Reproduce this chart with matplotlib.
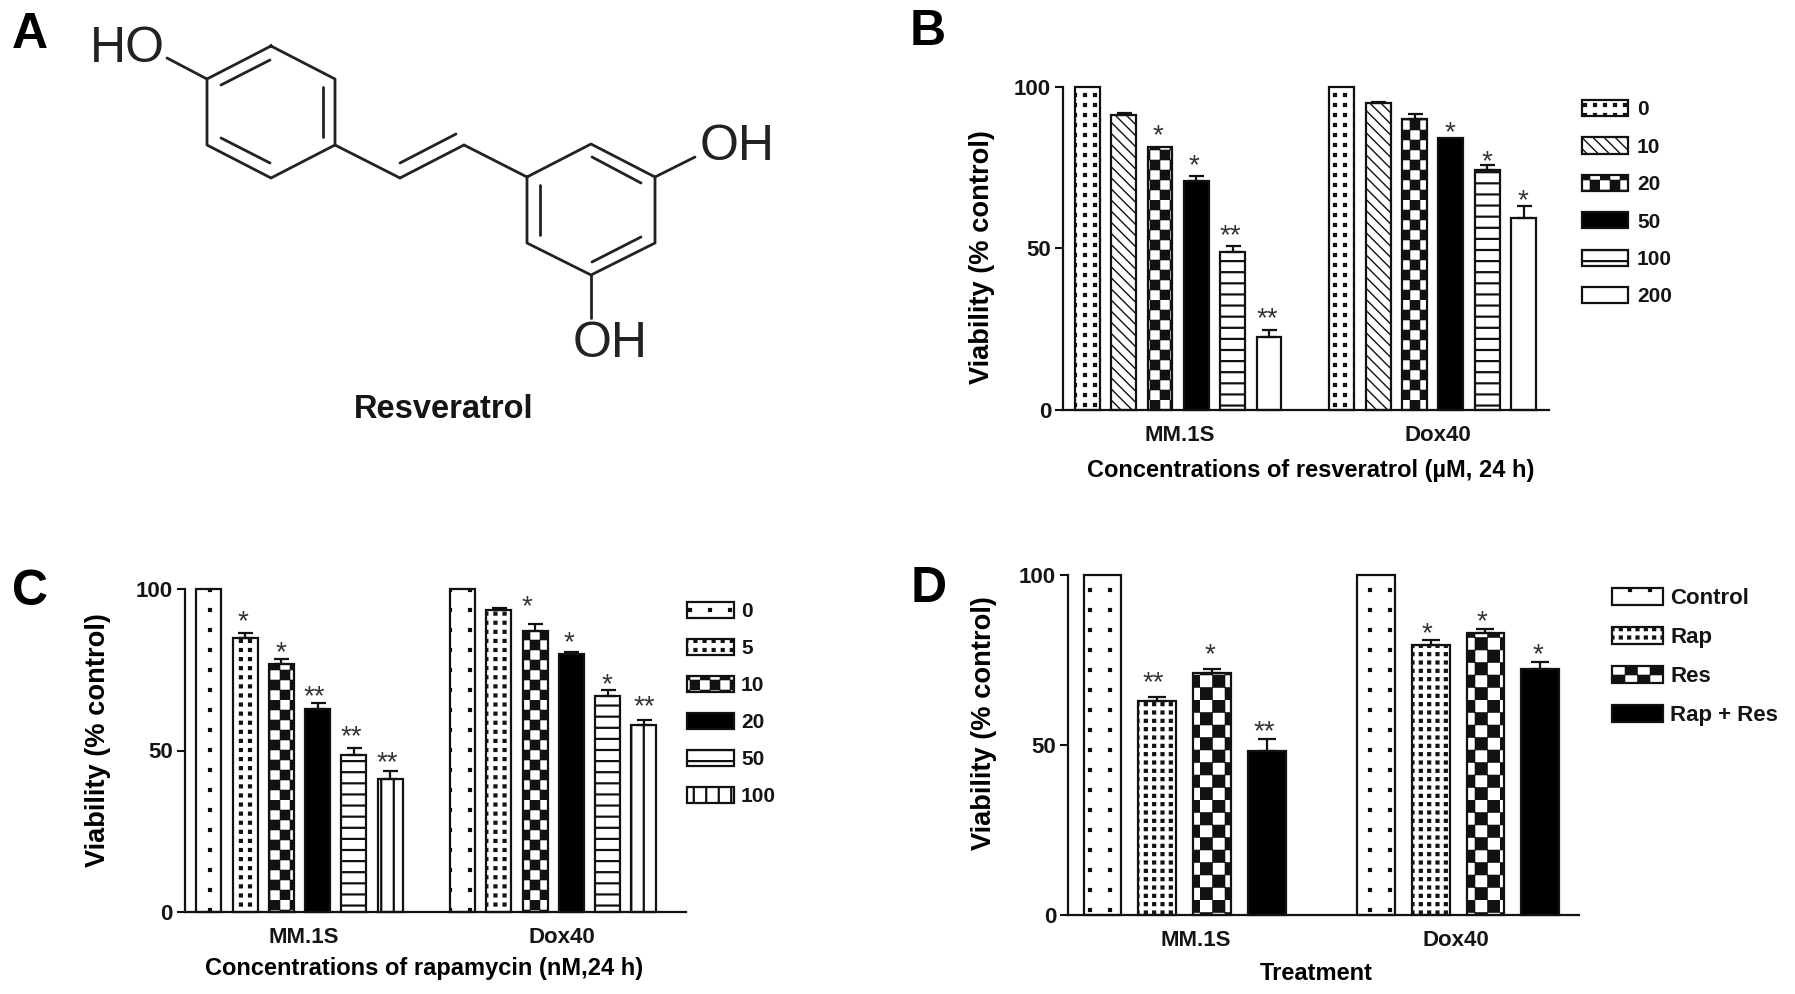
import matplotlib
matplotlib.use("Agg")
import matplotlib.hatch as mhatch
import matplotlib.pyplot as plt
import numpy as np
from matplotlib.path import Path
from matplotlib.transforms import Affine2D

W, H = 1795, 994

plt.rcParams["font.family"] = ["Liberation Sans"]
plt.rcParams["font.weight"] = "bold"
plt.rcParams["hatch.linewidth"] = 1.0
plt.rcParams["text.color"] = "#151515"

# Panel A, positions of the drawing in reference pixels
ring_1 = [(271, 46), (335, 79), (335, 145), (271, 178), (207, 145), (207, 79)]
ring_2 = [(527, 177), (591, 144), (655, 177), (655, 243), (591, 275), (527, 243)]
single_bonds = [
    [(167, 58), (207, 79)], [(335, 145), (400, 178)], [(464, 145), (527, 177)],
    [(655, 177), (695, 157)], [(591, 275), (591, 318)],
]
double_bonds = [
    [(400, 178), (464, 145)], [(400, 163), (456, 134)],
    [(221, 85), (270, 60)], [(323, 87), (323, 137)], [(221, 138), (270, 163)],
    [(592, 157), (641, 183)], [(540, 185), (540, 235)], [(592, 262), (641, 237)],
]

# Panel B
b_labels = ["0", "10", "20", "50", "100", "200"]
b_mm1s = [100, 91.4, 81.3, 71.0, 48.8, 22.5]
b_dox40 = [100, 95.0, 90.0, 84.2, 74.2, 59.4]
b_mm1s_err = [0, 0.5, 0, 1.5, 2.0, 2.3]
b_dox40_err = [0, 0.5, 1.5, 0, 1.5, 3.8]
b_star_x = [1.93, 2.93, 3.94, 4.95, 9.97, 10.98, 11.98]
b_star_y = [87.0, 77.7, 56.0, 30.5, 88.0, 79.0, 66.8]
b_star_text = ["*", "*", "**", "**", "*", "*", "*"]
b_hatches = ["." * 10, "\\\\\\", "*" * 5, "", "-" * 9, None]

# Panel C
c_labels = ["0", "5", "10", "20", "50", "100"]
c_mm1s = [100, 84.8, 76.9, 63.0, 48.7, 41.3]
c_dox40 = [100, 93.6, 87.1, 79.8, 66.8, 58.0]
c_mm1s_err = [0, 1.6, 1.4, 1.7, 2.1, 2.2]
c_dox40_err = [0, 0.4, 2.2, 0.6, 2.0, 1.5]
c_star_x = [0.94, 1.99, 2.92, 3.93, 4.93, 8.77, 9.94, 10.97, 12.02]
c_star_y = [92.0, 82.5, 68.8, 56.5, 48.4, 96.6, 85.5, 72.5, 65.7]
c_star_text = ["*", "*", "**", "**", "**", "*", "*", "*", "**"]
c_hatches = ["." * 5, "." * 11, "*" * 5, "", "-" * 9, "|" * 8]

# Panel D
d_labels = ["Control", "Rap", "Res", "Rap + Res"]
d_mm1s = [100, 62.9, 71.1, 48.3]
d_dox40 = [100, 79.4, 82.9, 72.5]
d_mm1s_err = [0, 1.3, 1.4, 3.5]
d_dox40_err = [0, 1.4, 1.2, 2.0]
d_star_x = [0.92, 1.97, 2.96, 5.93, 6.93, 7.95]
d_star_y = [70.3, 78.6, 55.9, 84.8, 88.2, 78.4]
d_star_text = ["**", "*", "**", "*", "*", "*"]
d_hatches = ["." * 5, "." * 12, "*" * 4, ""]

y_ticks = [0, 50, 100]
groups = ["MM.1S", "Dox40"]


class GridHatch(mhatch.HatchPatternBase):
    # square tile patterns: the hatches in the original are blocky, not matplotlib's
    filled = True

    def __init__(self, hatch, density):
        self.rects = []
        for kind, maker in [(".", self.dots), ("*", self.checker),
                            ("-", self.hlines), ("|", self.vlines)]:
            k = hatch.count(kind)
            if k:
                self.rects += maker(k)
        self.num_vertices = len(self.rects) * 5

    def dots(self, k):
        s = 0.014
        return [((i + 0.5) / k - s, (j + 0.5) / k - s, 2 * s, 2 * s)
                for i in range(k) for j in range(k)]

    def checker(self, k):
        n = 2 * k
        c = 1.0 / n
        return [(i * c + 0.004, j * c + 0.004, c - 0.008, c - 0.008)
                for i in range(n) for j in range(n) if (i + j) % 2 == 0]

    def hlines(self, k):
        return [(0, (j + 0.5) / k - 0.004, 1, 0.008) for j in range(k)]

    def vlines(self, k):
        return [((i + 0.5) / k - 0.004, 0, 0.008, 1) for i in range(k)]

    def set_vertices_and_codes(self, vertices, codes):
        for n, (x, y, w, h) in enumerate(self.rects):
            vertices[n * 5:n * 5 + 5] = [(x, y), (x + w, y), (x + w, y + h), (x, y + h), (x, y)]
            codes[n * 5:n * 5 + 5] = [Path.MOVETO, Path.LINETO, Path.LINETO,
                                      Path.LINETO, Path.CLOSEPOLY]


mhatch._hatch_types = [mhatch.SouthEastHatch, GridHatch]

fig = plt.figure(figsize=(W / 100, H / 100), dpi=100, facecolor="white")
# reference pixel coordinates, origin top left
pixels = Affine2D().scale(1, -1).translate(0, H)


def draw_panel(box, xlim, mm1s, dox40, mm1s_err, dox40_err, labels, hatches, bar_width,
               star_x, star_y, star_text, cat_x, xlabel, xlabel_pos, ylabel_pos,
               cat_y, legend_pos, legend_font, handle_w, handle_h, spacing, textpad, capsize):
    left, top, right, bottom = box
    ax = fig.add_axes([left / W, 1 - bottom / H, (right - left) / W, (bottom - top) / H])
    n = len(labels)
    x = np.arange(2 * n + 1)
    x = np.delete(x, n)
    vals = mm1s + dox40
    errs = np.array(mm1s_err + dox40_err)
    handles = []
    for i in range(2 * n):
        k = i % n
        fill = "black" if hatches[k] == "" else "white"
        bar = ax.bar(x[i], vals[i], bar_width, facecolor=fill, edgecolor="#111111",
                     linewidth=1.6, hatch=hatches[k] or None, clip_on=False, zorder=2)
        if i < n:
            handles.append(bar)
    keep = errs > 0
    ax.errorbar(x[keep], np.array(vals)[keep], yerr=[np.zeros(keep.sum()), errs[keep]],
                fmt="none", ecolor="#111111", elinewidth=1.6, capsize=capsize,
                capthick=1.6, zorder=3, clip_on=False)
    for sx, sy, st in zip(star_x, star_y, star_text):
        ax.annotate(st, (sx, sy), xytext=(0, -5.2), textcoords="offset points",
                    ha="center", va="center", fontsize=20, fontweight="normal", color="#333333")
    ax.set_xlim(*xlim)
    ax.set_ylim(0, 100)
    ax.set_yticks(y_ticks)
    ax.set_xticks(cat_x)
    ax.set_xticklabels(groups)
    ax.tick_params(axis="y", length=5.5, width=1.5, labelsize=16, pad=3, color="#111111",
                   labelcolor="#151515")
    ax.tick_params(axis="x", length=0, labelsize=16, pad=cat_y, labelcolor="#151515")
    for side in ["top", "right"]:
        ax.spines[side].set_visible(False)
    for side in ["left", "bottom"]:
        ax.spines[side].set_linewidth(1.6)
        ax.spines[side].set_color("#111111")
    ax.set_ylabel("Viability (% control)", fontsize=19.6, fontweight="bold", rotation=90,
                  ha="center", va="center")
    ax.yaxis.set_label_coords(*ylabel_pos, transform=pixels)
    ax.set_xlabel(xlabel, fontsize=17, fontweight="bold", ha="center", va="center")
    ax.xaxis.set_label_coords(*xlabel_pos, transform=pixels)
    fs_px = legend_font * 100 / 72
    ax.legend(handles=handles, labels=labels, loc="upper left", bbox_to_anchor=legend_pos,
              bbox_transform=pixels, frameon=False, fontsize=legend_font, borderpad=0,
              borderaxespad=0, handlelength=handle_w / fs_px, handleheight=handle_h / fs_px,
              labelspacing=spacing, handletextpad=textpad / fs_px)
    return ax


# B
draw_panel((1063, 87, 1549, 410), (-0.67, 12.7), b_mm1s, b_dox40, b_mm1s_err, b_dox40_err,
           b_labels, b_hatches, 0.68, b_star_x, b_star_y, b_star_text, [2.55, 9.65],
           "Concentrations of resveratrol (\u00b5M, 24 h)", (1311, 470), (982, 257), 11,
           (1582, 100), 15, 46, 17, 0.87, 9, 5.4)
# C
draw_panel((184.5, 589, 686, 912), (-0.67, 13.16), c_mm1s, c_dox40, c_mm1s_err, c_dox40_err,
           c_labels, c_hatches, 0.69, c_star_x, c_star_y, c_star_text, [2.61, 9.75],
           "Concentrations of rapamycin (nM,24 h)", (424, 968), (98, 740), 11,
           (687, 602), 15, 47, 17, 0.85, 7, 5.4)
# D
draw_panel((1068, 575, 1579, 915), (-0.633, 8.71), d_mm1s, d_dox40, d_mm1s_err, d_dox40_err,
           d_labels, d_hatches, 0.69, d_star_x, d_star_y, d_star_text, [1.7, 6.45],
           "Treatment", (1316, 974), (984, 723), 11,
           (1612, 588), 16, 51, 18, 0.8, 7, 6.5)

# A, the structure of resveratrol
mol = fig.add_axes([0, 0, 1, 1], facecolor="none")
mol.set_xlim(0, W)
mol.set_ylim(H, 0)
mol.axis("off")
for ring in [ring_1, ring_2]:
    xs, ys = zip(*(ring + ring[:1]))
    mol.plot(xs, ys, color="#222222", lw=2.0, solid_joinstyle="round")
for seg in single_bonds + double_bonds:
    xs, ys = zip(*seg)
    mol.plot(xs, ys, color="#222222", lw=2.0, solid_capstyle="round")
mol.text(127, 49, "HO", fontsize=36, fontweight="normal", ha="center", va="center", color="#222222")
mol.text(737, 147, "OH", fontsize=36, fontweight="normal", ha="center", va="center", color="#222222")
mol.text(610, 344, "OH", fontsize=36, fontweight="normal", ha="center", va="center", color="#222222")
mol.text(444, 410, "Resveratrol", fontsize=23.5, ha="center", va="center")

# panel letters
for letter, px, py in [("A", 30, 35), ("B", 928, 32), ("C", 30, 592), ("D", 929, 589)]:
    mol.text(px, py, letter, fontsize=36, ha="center", va="center", color="black")

fig.savefig("out.png", dpi=100)
